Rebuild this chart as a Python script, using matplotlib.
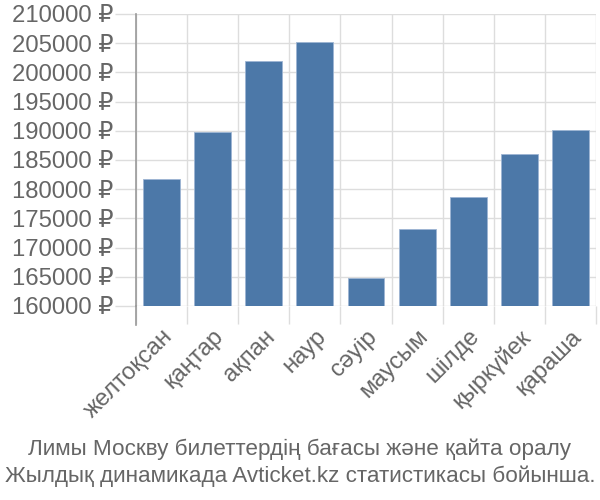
import numpy as np
import matplotlib.pyplot as plt

plt.rcParams['font.family'] = ['Liberation Sans', 'DejaVu Sans']

months = ['желтоқсан', 'қаңтар', 'ақпан', 'наур', 'сәуір',
          'маусым', 'шілде', 'қыркүйек', 'қараша']
prices = [181750, 189750, 201900, 205250, 164800,
          173100, 178700, 186100, 190100]
yticks = list(range(160000, 210001, 5000))
ytick_labels = [f'{v} ₽' for v in yticks]
title_lines = ['Лимы Москву билеттердің бағасы және қайта оралу',
               'Жылдық динамикада Avticket.kz статистикасы бойынша.']

base = 160000
grey = '#666666'
grid_c = '#dddddd'
fs = 17.2

fig = plt.figure(figsize=(6, 5), dpi=100)
ax = fig.add_axes([0.2267, 0.388, 0.7666, 0.584])

x = np.arange(len(months))
ax.bar(x, np.array(prices) - base, bottom=base, width=0.72,
       color='#4c78a8', edgecolor='#9db5d3', linewidth=0.6, zorder=3)

ax.set_xlim(-0.5, len(months) - 0.5)
ax.set_ylim(base, 210000)

ax.set_yticks(yticks)
ax.set_yticklabels(ytick_labels, fontsize=fs, color=grey)
ax.tick_params(axis='y', length=15, color=grid_c, width=1, pad=1)

ax.set_xticks(x)
ax.set_xticklabels(months, rotation=45, ha='right', rotation_mode='anchor',
                   fontsize=fs, color=grey)
ax.tick_params(axis='x', which='major', length=0, pad=14)
ax.set_xticks(np.arange(len(months) + 1) - 0.5, minor=True)
ax.tick_params(axis='x', which='minor', length=13, color=grid_c, width=1)

ax.grid(axis='y', color=grid_c, linewidth=1, zorder=0)
ax.grid(axis='x', which='minor', color=grid_c, linewidth=1, zorder=0)

for s in ['top', 'right', 'bottom']:
    ax.spines[s].set_visible(False)
ax.spines['left'].set_color('#999999')
ax.spines['left'].set_linewidth(1.2)
ax.plot([0, 0], [0, -0.065], transform=ax.transAxes, color='#999999',
        linewidth=1.2, clip_on=False)

fig.text(0.5, 0.102, title_lines[0], ha='center', va='center',
         fontsize=16.2, color=grey)
fig.text(0.5, 0.048, title_lines[1], ha='center', va='center',
         fontsize=16.2, color=grey)

fig.savefig('out.png', dpi=100)
